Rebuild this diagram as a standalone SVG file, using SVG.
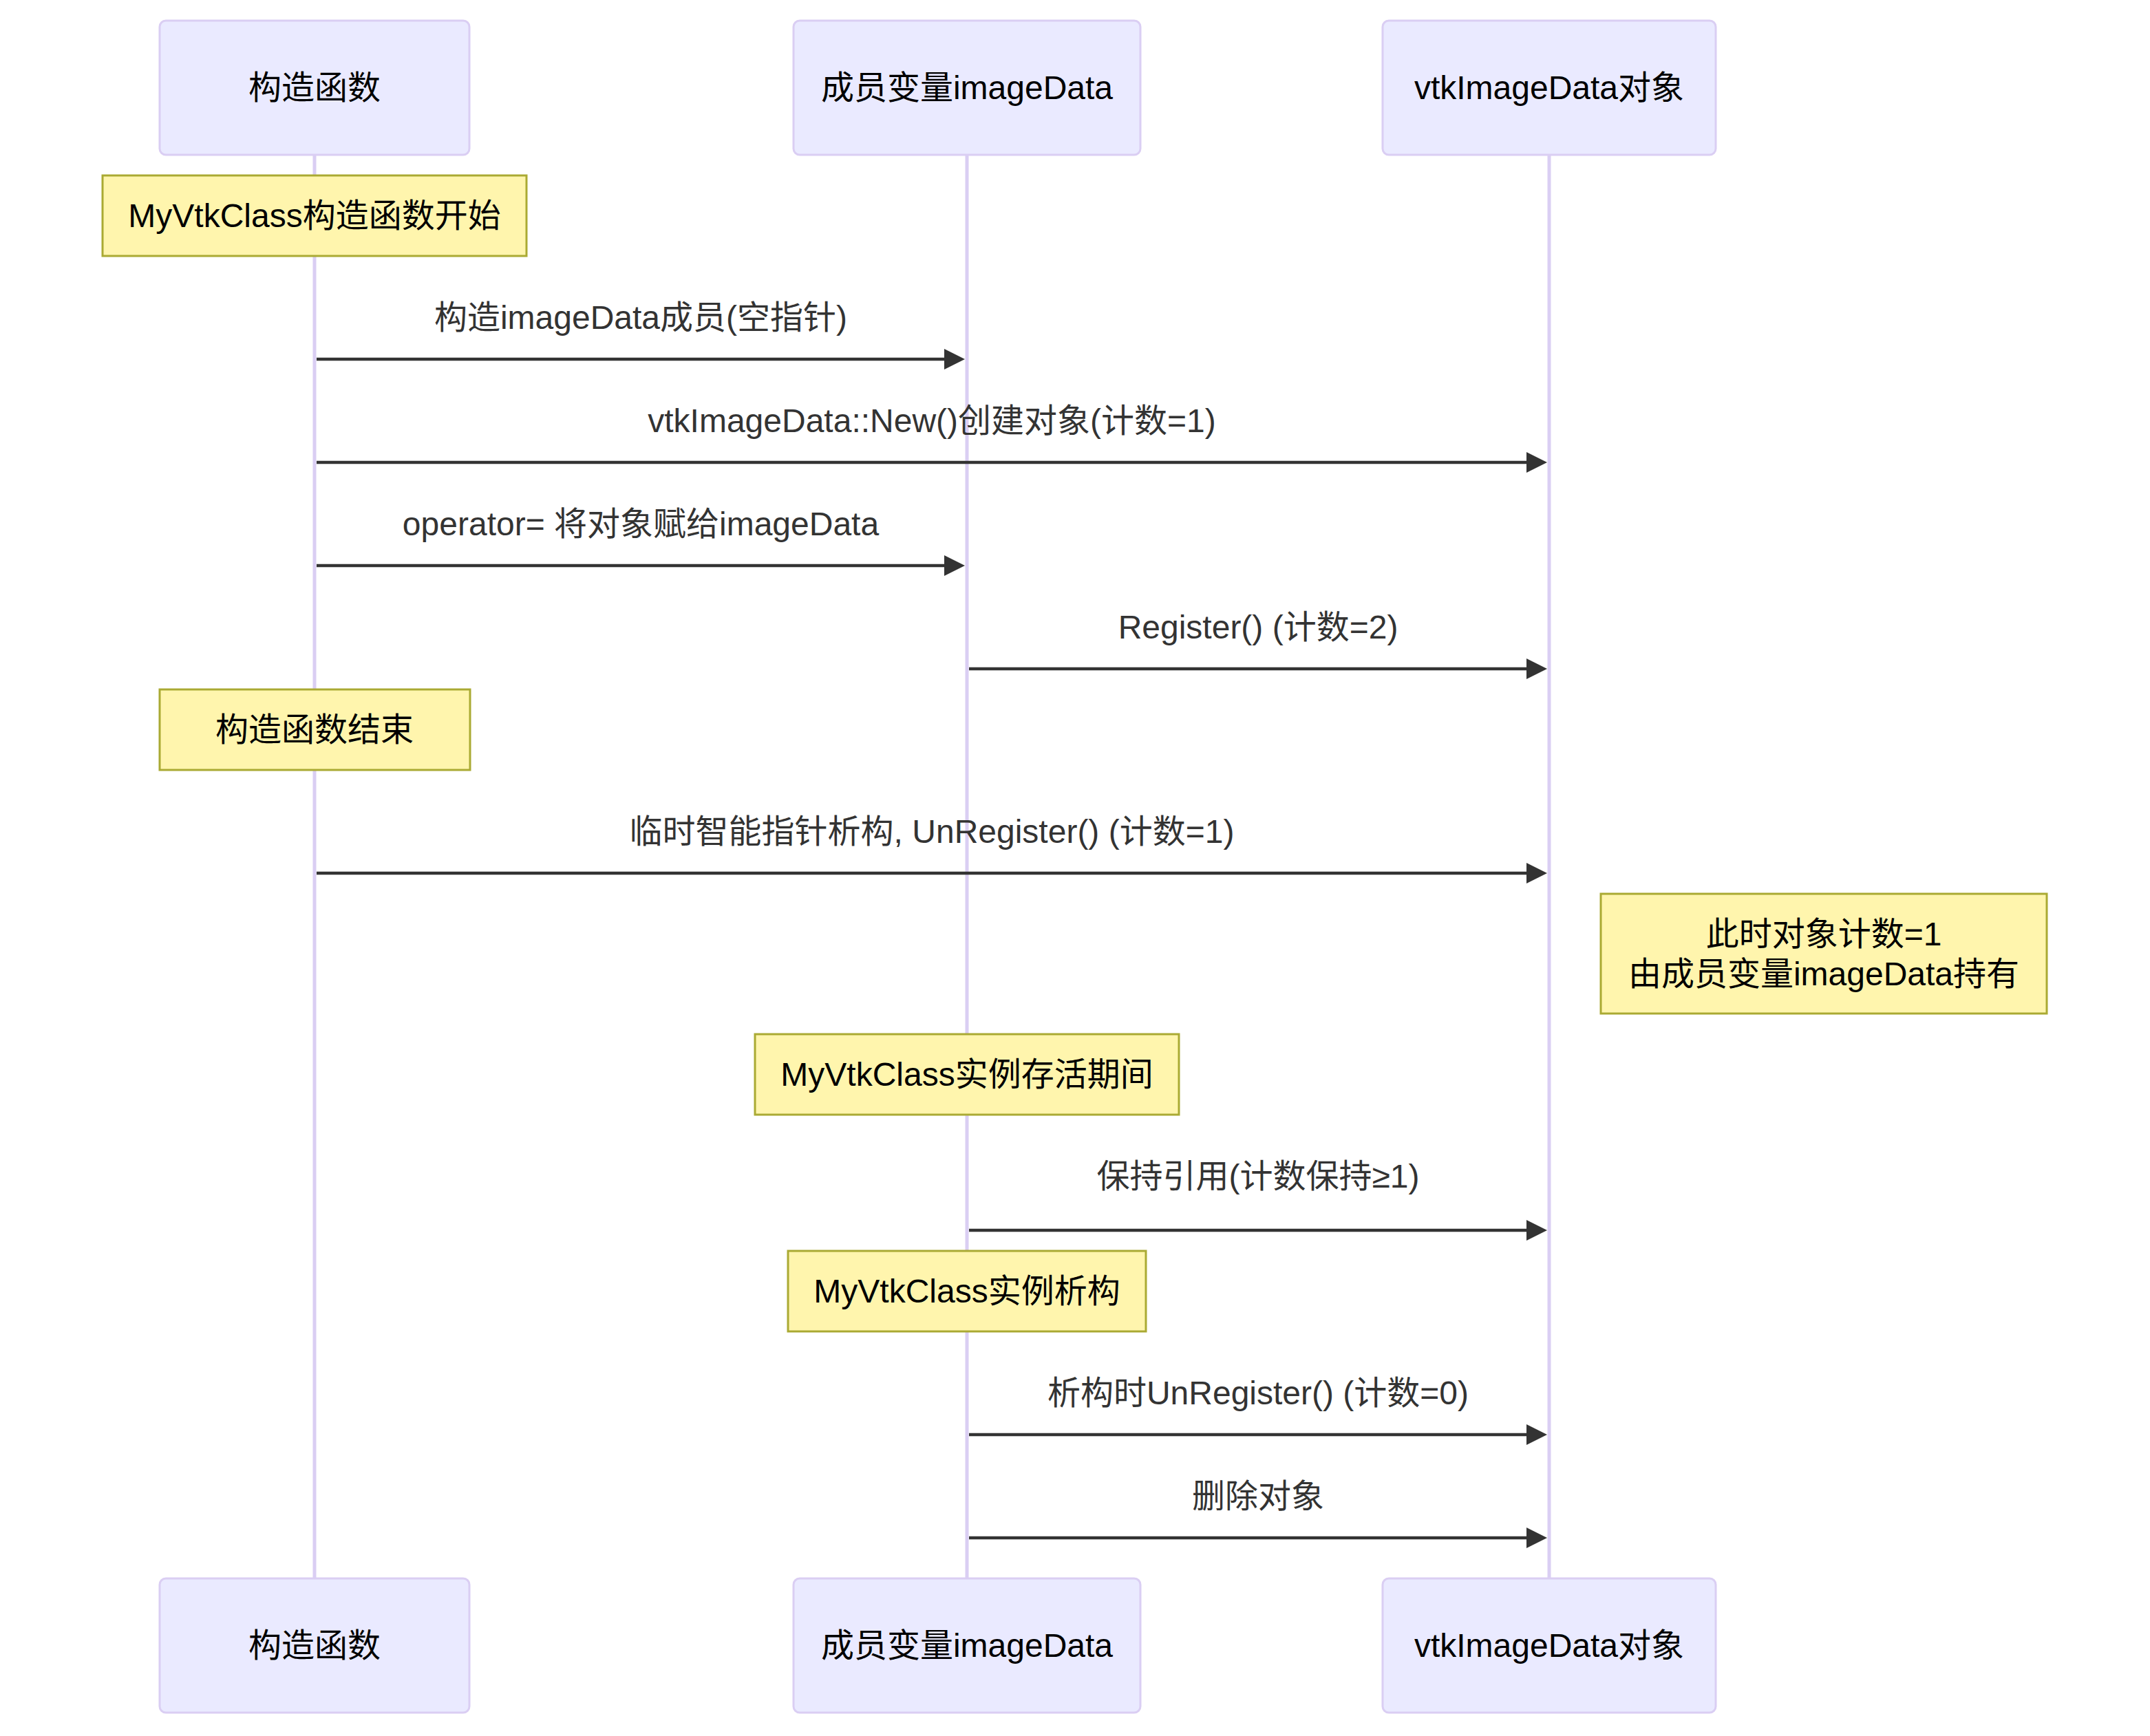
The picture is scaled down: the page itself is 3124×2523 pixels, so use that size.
<svg xmlns="http://www.w3.org/2000/svg" width="3124" height="2523" viewBox="0 0 3124 2523">
<style>
  .actor { fill: #eaeaff; stroke: #dacef3; stroke-width: 3; }
  .life { stroke: #dacef3; stroke-width: 5; }
  .note { fill: #fff5ad; stroke: #aaaa33; stroke-width: 3; }
  .msg { stroke: #333333; stroke-width: 4.5; fill: none; marker-end: url(#arrow); }
  text { font-family: "Liberation Sans", "Noto Sans CJK SC", sans-serif; font-size: 48px; text-anchor: middle; }
  .at { fill: #000000; dominant-baseline: central; }
  .nt { fill: #000000; dominant-baseline: central; }
  .mt { fill: #333333; }
</style>
<defs>
  <marker id="arrow" markerUnits="userSpaceOnUse" markerWidth="36" markerHeight="36" refX="22" refY="15" orient="auto" viewBox="0 0 36 36">
    <path d="M 0 0 L 30 15 L 0 30 z" fill="#333333"/>
  </marker>
</defs>
<rect width="3124" height="2523" fill="#ffffff"/>
<g id="lifelines">
  <line class="life" x1="457" y1="225" x2="457" y2="2294"/>
  <line class="life" x1="1405" y1="225" x2="1405" y2="2294"/>
  <line class="life" x1="2251" y1="225" x2="2251" y2="2294"/>
</g>
<g id="actor-ctor-top"><rect class="actor" x="232" y="30" width="450" height="195" rx="9"/><text class="at" x="457" y="127.5">构造函数</text></g>
<g id="actor-member-top"><rect class="actor" x="1153" y="30" width="504" height="195" rx="9"/><text class="at" x="1405" y="127.5">成员变量imageData</text></g>
<g id="actor-obj-top"><rect class="actor" x="2009" y="30" width="484" height="195" rx="9"/><text class="at" x="2251" y="127.5">vtkImageData对象</text></g>
<g id="actor-ctor-bottom"><rect class="actor" x="232" y="2294" width="450" height="195" rx="9"/><text class="at" x="457" y="2391.5">构造函数</text></g>
<g id="actor-member-bottom"><rect class="actor" x="1153" y="2294" width="504" height="195" rx="9"/><text class="at" x="1405" y="2391.5">成员变量imageData</text></g>
<g id="actor-obj-bottom"><rect class="actor" x="2009" y="2294" width="484" height="195" rx="9"/><text class="at" x="2251" y="2391.5">vtkImageData对象</text></g>
<g id="note-start"><rect class="note" x="149" y="255" width="616" height="117"/><text class="nt" x="457" y="313.5">MyVtkClass构造函数开始</text></g>
<g id="note-end"><rect class="note" x="232" y="1002" width="451" height="117"/><text class="nt" x="457" y="1060.5">构造函数结束</text></g>
<g id="note-count"><rect class="note" x="2326" y="1299" width="648" height="174"/><text class="nt" x="2650" y="1357">此时对象计数=1</text><text class="nt" x="2650" y="1415">由成员变量imageData持有</text></g>
<g id="note-alive"><rect class="note" x="1097" y="1503" width="616" height="117"/><text class="nt" x="1405" y="1561.5">MyVtkClass实例存活期间</text></g>
<g id="note-destroy"><rect class="note" x="1145" y="1818" width="520" height="117"/><text class="nt" x="1405" y="1876.5">MyVtkClass实例析构</text></g>
<g id="connectors">
  <line class="msg" x1="460" y1="522" x2="1394" y2="522"/>
  <text class="mt" x="931" y="478">构造imageData成员(空指针)</text>
  <line class="msg" x1="460" y1="672" x2="2240" y2="672"/>
  <text class="mt" x="1354" y="628">vtkImageData::New()创建对象(计数=1)</text>
  <line class="msg" x1="460" y1="822" x2="1394" y2="822"/>
  <text class="mt" x="931" y="778">operator= 将对象赋给imageData</text>
  <line class="msg" x1="1408" y1="972" x2="2240" y2="972"/>
  <text class="mt" x="1828" y="928">Register() (计数=2)</text>
  <line class="msg" x1="460" y1="1269" x2="2240" y2="1269"/>
  <text class="mt" x="1354" y="1225">临时智能指针析构, UnRegister() (计数=1)</text>
  <line class="msg" x1="1408" y1="1788" x2="2240" y2="1788"/>
  <text class="mt" x="1828" y="1726">保持引用(计数保持≥1)</text>
  <line class="msg" x1="1408" y1="2085" x2="2240" y2="2085"/>
  <text class="mt" x="1828" y="2041">析构时UnRegister() (计数=0)</text>
  <line class="msg" x1="1408" y1="2235" x2="2240" y2="2235"/>
  <text class="mt" x="1828" y="2191">删除对象</text>
</g>
</svg>
